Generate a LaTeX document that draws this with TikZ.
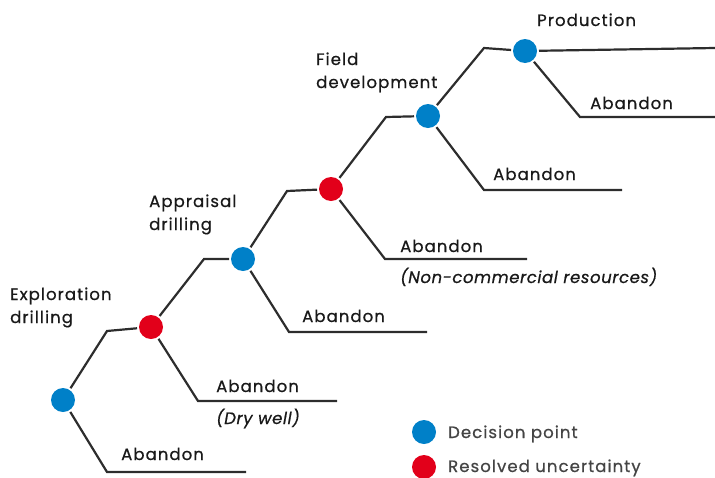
\documentclass[tikz,border=0pt]{standalone}
\usepackage{fontspec}
\setmainfont[LetterSpace=6.5,FakeBold=0.7,
  ItalicFeatures={LetterSpace=3.5}]{Poppins}
\usepackage{xcolor}
\usetikzlibrary{backgrounds}

\definecolor{DecBlue}{RGB}{0,128,200}
\definecolor{ResRed}{RGB}{226,0,26}
\definecolor{LineGray}{RGB}{45,45,45}
\definecolor{TextDark}{RGB}{25,25,25}
\definecolor{LegGray}{RGB}{68,68,68}

\begin{document}
\begin{tikzpicture}[
  x=1pt,y=-1pt,
  decision/.style={circle,fill=DecBlue,inner sep=0,minimum size=24pt,
    outer sep=2pt},
  resolved/.style={decision,fill=ResRed},
  branch/.style={draw=LineGray,line width=2.2pt},
  stage/.style={anchor=base west,align=left,inner sep=0,text=TextDark,
    font=\fontsize{16.5}{23}\selectfont},
  outcome/.style={anchor=base west,inner sep=0,text=TextDark,
    font=\fontsize{16.5}{22}\selectfont},
  remark/.style={anchor=base west,inner sep=0,text=TextDark,
    font=\fontsize{16.5}{22}\selectfont\itshape},
  legend/.style={anchor=base west,inner sep=0,text=LegGray,
    font=\fontsize{16.5}{22}\selectfont}
  ]
  \useasboundingbox (0,0) rectangle (715,477);

  % decision points and resolved uncertainties
  \node[decision] (d1) at (63,400) {};
  \node[resolved] (r1) at (151,327) {};
  \node[decision] (d2) at (243,259) {};
  \node[resolved] (r2) at (331,189) {};
  \node[decision] (d3) at (428,116) {};
  \node[decision] (d4) at (525,51)  {};

  % bends of the branches
  \coordinate (d1up)  at (107,331);
  \coordinate (d1dn)  at (107,472);  \coordinate (d1end) at (246,472);
  \coordinate (r1up)  at (204,259);
  \coordinate (r1dn)  at (198,401);  \coordinate (r1end) at (337,401);
  \coordinate (d2up)  at (287,191);
  \coordinate (d2dn)  at (289,332);  \coordinate (d2end) at (427,332);
  \coordinate (r2up)  at (386,117);
  \coordinate (r2dn)  at (385,259);  \coordinate (r2end) at (527,259);
  \coordinate (d3up)  at (484,48);
  \coordinate (d3dn)  at (484,190);  \coordinate (d3end) at (622,190);
  \coordinate (d4end) at (715,48);
  \coordinate (d4dn)  at (580,117);  \coordinate (d4low) at (715,117);

  \begin{scope}[on background layer]
    \draw[branch] (d1) -- (d1up) -- (r1);
    \draw[branch] (d1) -- (d1dn) -- (d1end);
    \draw[branch] (r1) -- (r1up) -- (d2);
    \draw[branch] (r1) -- (r1dn) -- (r1end);
    \draw[branch] (d2) -- (d2up) -- (r2);
    \draw[branch] (d2) -- (d2dn) -- (d2end);
    \draw[branch] (r2) -- (r2up) -- (d3);
    \draw[branch] (r2) -- (r2dn) -- (r2end);
    \draw[branch] (d3) -- (d3up) -- (d4);
    \draw[branch] (d3) -- (d3dn) -- (d3end);
    \draw[branch] (d4) -- (d4end);
    \draw[branch] (d4) -- (d4dn) -- (d4low);
  \end{scope}

  % stages (base = last line)
  \node[stage] (explo) at (10,323)  {Exploration\\drilling};
  \node[stage] (appr)  at (149,230) {Appraisal\\drilling};
  \node[stage] (field) at (316,88)  {Field\\development};
  \node[stage] (prod)  at (537,26)  {Production};

  % outcomes
  \node[outcome] (ab1) at (121,460) {Abandon};
  \node[outcome] (ab2) at (216,392) {Abandon};
  \node[remark]  (dry) at (216,424) {(Dry well)};
  \node[outcome] (ab3) at (302,322) {Abandon};
  \node[outcome] (ab4) at (400,252) {Abandon};
  \node[remark]  (ncr) at (400,283) {(Non-commercial resources)};
  \node[outcome] (ab5) at (493,180) {Abandon};
  \node[outcome] (ab6) at (590,109) {Abandon};

  % legend
  \node[decision,outer sep=0] (legd) at (424,432) {};
  \node[resolved,outer sep=0] (legr) at (424,467) {};
  \node[legend] (legdt) at (448,438) {Decision point};
  \node[legend] (legrt) at (448,472) {Resolved uncertainty};
\end{tikzpicture}
\end{document}
